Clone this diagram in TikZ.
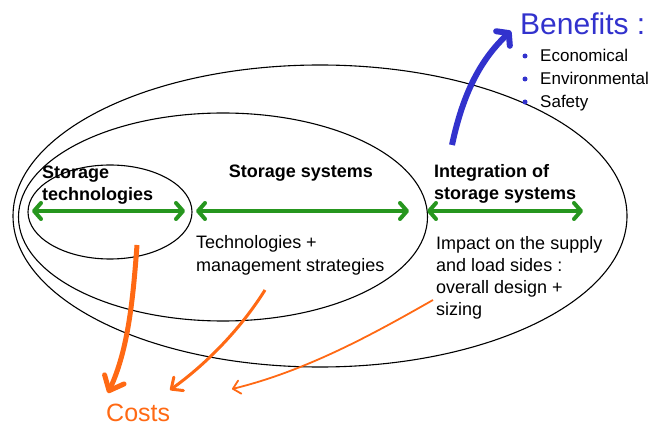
\documentclass[tikz,border=0pt]{standalone}
\usepackage{fontspec}
\setmainfont{Liberation Sans}
\usetikzlibrary{arrows.meta,shapes.geometric}
\definecolor{grn}{RGB}{38,150,30}
\definecolor{orn}{RGB}{255,105,20}
\definecolor{blu}{RGB}{50,50,205}
\begin{document}
\begin{tikzpicture}[x=1pt,y=-1pt,
  ell/.style={draw=black,line width=1.1pt,ellipse,inner sep=0pt},
  lbl/.style={inner sep=0pt,anchor=base west,align=left,font=\fontsize{18}{22}\selectfont},
  blbl/.style={lbl,font=\fontsize{18}{22}\selectfont\bfseries},
  garrow/.style={draw=grn,line width=4pt,{Straight Barb[length=7pt,width=16pt,round]}-{Straight Barb[length=7pt,width=16pt,round]}},
  oarrow/.style={draw=orn,-{Straight Barb[length=#1*1.7pt+4pt,width=#1*2.5pt+9pt,round]},line width=#1 pt},
  bul/.style={circle,fill=blu,inner sep=0pt,minimum size=5pt}
]
\useasboundingbox (0,0) rectangle (668,427);
% ellipses
\node[ell,minimum width=614pt,minimum height=302pt] (outer) at (320,216) {};
\node[ell,minimum width=409pt,minimum height=208pt] (mid) at (223,217) {};
\node[ell,minimum width=164pt,minimum height=94pt] (small) at (110,212) {};
% bold titles (base = last line)
\node[blbl] (t1) at (42,201) {Storage\\technologies};
\node[blbl,anchor=base] (t2) at (301,178) {Storage systems};
\node[blbl] (t3) at (434,200) {Integration of\\storage systems};
% regular texts
\node[lbl] (d2) at (196,271) {Technologies +\\management strategies};
\node[lbl] (d3) at (436,315) {Impact on the supply\\and load sides :\\overall design +\\sizing};
% green arrows
\coordinate (g1a) at (32,211); \coordinate (g1b) at (185,211);
\coordinate (g2a) at (196,211); \coordinate (g2b) at (409,211);
\coordinate (g3a) at (427,211); \coordinate (g3b) at (583,211);
\draw[garrow] (g1a) -- (g1b);
\draw[garrow] (g2a) -- (g2b);
\draw[garrow] (g3a) -- (g3b);
% benefits
\node[inner sep=0pt,anchor=base west,text=blu,font=\fontsize{30}{31}\selectfont] (ben) at (520,35) {Benefits :};
\node[lbl,font=\fontsize{17}{23}\selectfont] (b1) at (540,62) {Economical};
\node[lbl,font=\fontsize{17}{23}\selectfont] (b2) at (540,85) {Environmental};
\node[lbl,font=\fontsize{17}{23}\selectfont] (b3) at (540,108) {Safety};
\node[bul] (p1) at (525,56) {};
\node[bul] (p2) at (525,79) {};
\node[bul] (p3) at (525,102) {};
% blue arrow
\coordinate (bs) at (452,145);
\coordinate (be) at (511,31);
\draw[draw=blu,line width=6pt,-{Straight Barb[length=8pt,width=20pt,round]}] (bs) .. controls (462,98) and (478,62) .. (be);
% costs
\node[inner sep=0pt,anchor=base west,text=orn,font=\fontsize{25}{26}\selectfont] (costs) at (106,421) {Costs};
\coordinate (o1s) at (137,245); \coordinate (o1e) at (108,393);
\coordinate (o2s) at (265,290); \coordinate (o2e) at (170,390);
\coordinate (o3s) at (433,300); \coordinate (o3e) at (232,389);
\draw[oarrow=5] (o1s) .. controls (133,300) and (128,350) .. (o1e);
\draw[oarrow=3] (o2s) .. controls (240,330) and (205,365) .. (o2e);
\draw[oarrow=1.8] (o3s) .. controls (380,330) and (310,370) .. (o3e);
\end{tikzpicture}
\end{document}
